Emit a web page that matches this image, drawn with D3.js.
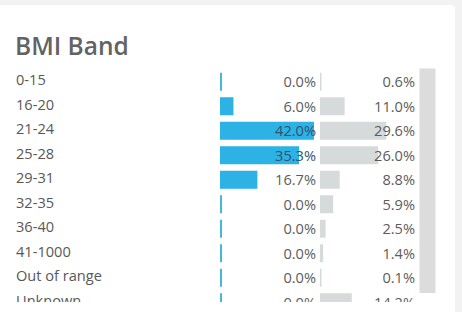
<!DOCTYPE html>
<html>
<head>
<meta charset="utf-8">
<script src="https://cdn.jsdelivr.net/npm/d3@7"></script>
<style>
  html, body { margin: 0; padding: 0; background: #f2f2f2; }
  svg { display: block; }
  text { font-family: "Open Sans", sans-serif; }
</style>
</head>
<body>
<svg id="chart" width="462" height="312"></svg>
<script>
const title = "BMI Band";
const categories = ["0-15", "16-20", "21-24", "25-28", "29-31", "32-35", "36-40", "41-1000", "Out of range", "Unknown"];
const currentValues = [0.0, 6.0, 42.0, 35.3, 16.7, 0.0, 0.0, 0.0, 0.0, 0.0];
const compareValues = [0.6, 11.0, 29.6, 26.0, 8.8, 5.9, 2.5, 1.4, 0.1, 14.2];

const svg = d3.select("#chart");

// card
svg.append("rect").attr("x", -6).attr("y", 5).attr("width", 461).attr("height", 330)
  .attr("rx", 4).attr("fill", "#ffffff");

svg.append("text").attr("x", 15).attr("y", 54.5)
  .attr("font-size", 24.5).attr("font-weight", 600).attr("fill", "#636363")
  .text(title);

// scrollbar
svg.append("rect").attr("x", 419.5).attr("y", 68.5).attr("width", 16).attr("height", 224.5)
  .attr("fill", "#dcdcdc");

const defs = svg.append("defs");
defs.append("clipPath").attr("id", "clip").append("rect")
  .attr("x", 0).attr("y", 66).attr("width", 419).attr("height", 236);

const y = d3.scaleBand().domain(categories).range([69.5, 69.5 + 24.5 * categories.length])
  .paddingInner(0.265).paddingOuter(0.1325);
const xCur = d3.scaleLinear().domain([0, 42]).range([220, 314]);
const xCmp = d3.scaleLinear().domain([0, 42]).range([320, 414]);
const fmt = d => d.toFixed(1) + "%";

const g = svg.append("g").attr("clip-path", "url(#clip)");
const rows = categories.map((c, i) => ({ c, cur: currentValues[i], cmp: compareValues[i] }));

g.selectAll("text.lab").data(rows).enter().append("text").attr("class", "lab")
  .attr("x", 16).attr("y", d => y(d.c) + y.bandwidth() / 2 - 2)
  .attr("dy", "0.36em").attr("font-size", 14.6).attr("fill", "#585858")
  .text(d => d.c);

g.selectAll("rect.cur").data(rows).enter().append("rect").attr("class", "cur")
  .attr("x", xCur(0)).attr("y", d => y(d.c))
  .attr("width", d => Math.max(xCur(d.cur) - xCur(0), 2))
  .attr("height", y.bandwidth())
  .attr("fill", d => d.cur > 0 ? "#2cb2e4" : "#45b7d9");

g.selectAll("rect.cmp").data(rows).enter().append("rect").attr("class", "cmp")
  .attr("x", xCmp(0)).attr("y", d => y(d.c))
  .attr("width", d => Math.max(xCmp(d.cmp) - xCmp(0), 1.5))
  .attr("height", y.bandwidth())
  .attr("fill", "#d6dada");

g.selectAll("text.vcur").data(rows).enter().append("text").attr("class", "vcur")
  .attr("x", 316).attr("y", d => y(d.c) + y.bandwidth() / 2)
  .attr("dy", "0.36em").attr("text-anchor", "end").attr("font-size", 14.6)
  .attr("fill", d => d.cur > 30 ? "#35506e" : "#5c5c5c")
  .text(d => fmt(d.cur));

g.selectAll("text.vcmp").data(rows).enter().append("text").attr("class", "vcmp")
  .attr("x", 415).attr("y", d => y(d.c) + y.bandwidth() / 2)
  .attr("dy", "0.36em").attr("text-anchor", "end").attr("font-size", 14.6)
  .attr("fill", "#5c5c5c")
  .text(d => fmt(d.cmp));
</script>
</body>
</html>
